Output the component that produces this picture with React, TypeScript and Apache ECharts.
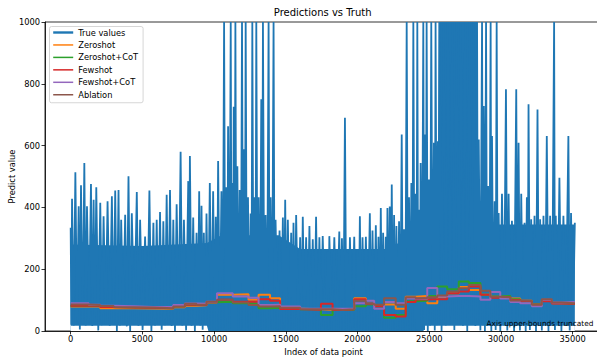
import React, { useEffect, useRef } from "react";
import * as echarts from "echarts";

const FONT = "DejaVu Sans";

const xTicks = [0, 5000, 10000, 15000, 20000, 25000, 30000, 35000];
const yTicks = [0, 200, 400, 600, 800, 1000];

// True values: dense signal, read as alternating peaks (high) and troughs (low)
const trueIdx = [
  0, 95, 327, 558, 720, 952, 1137, 1415, 1600, 1785,
  2063, 2295, 2572, 2873, 3105, 3336, 3521, 3799, 4031, 4262,
  4610, 4841, 5188, 5489, 5767, 5998, 6230, 6461, 6693, 6925,
  7156, 7388, 7665, 7897, 8198, 8312, 8543, 8775, 8960, 9122,
  9284, 9470, 9701, 9933, 10118, 10280, 10511, 10696, 10859, 10974,
  11159, 11275, 11368, 11484, 11622, 11785, 11946, 12085, 12201, 12363,
  12548, 12664, 12826, 12942, 13104, 13289, 13405, 13590, 13799, 13937,
  14146, 14285, 14563, 14794, 14956, 15141, 15373, 15535, 15720, 15998,
  16183, 16415, 16646, 16878, 17109, 17341, 17572, 17918, 18034, 18381,
  18728, 18913, 19122, 19307, 19469, 19770, 20001, 20163, 20349, 20580,
  20858, 21043, 21275, 21460, 21622, 21784, 21969, 22085, 22247, 22386,
  22548, 22710, 22895, 23080, 23242, 23427, 23590, 23752, 23890, 24053,
  24168, 24284, 24400, 24585, 24701, 24817, 24979, 25141, 25326, 25441,
  25603, 25719, 26000, 26300, 26600, 26900, 27200, 27500, 27800, 28100,
  28333, 28450, 28681, 28800, 28960, 29100, 29280, 29375, 29560, 29700,
  29838, 30070, 30348, 30533, 30765, 31065, 31228, 31413, 31644, 31806,
  31922, 32107, 32339, 32547, 32732, 32964, 33195, 33427, 33705, 33820,
  34075, 34353, 34700, 34885, 35150,
];
const trueHigh = [
  334, 428, 514, 404, 472, 544, 404, 476, 425, 465,
  415, 371, 420, 436, 455, 456, 360, 376, 501, 381,
  450, 360, 306, 455, 350, 360, 385, 355, 441, 456,
  360, 410, 580, 360, 485, 566, 367, 318, 452, 405,
  318, 380, 479, 452, 370, 550, 452, 1000, 465, 663,
  1000, 479, 726, 1000, 533, 456, 1000, 588, 1000, 433,
  380, 1000, 433, 1000, 433, 750, 1000, 375, 1000, 433,
  1000, 360, 325, 367, 425, 360, 318, 350, 375, 303,
  370, 303, 340, 297, 370, 303, 307, 257, 307, 303,
  322, 300, 690, 255, 303, 305, 260, 371, 303, 305,
  381, 325, 342, 305, 398, 318, 305, 398, 403, 474,
  375, 340, 355, 636, 329, 1000, 433, 479, 1000, 444,
  1000, 392, 544, 1000, 636, 1000, 490, 1000, 609, 1000,
  614, 1000, 1000, 1000, 1000, 1000, 1000, 1000, 1000, 1000,
  1000, 620, 1000, 728, 1000, 469, 1000, 631, 420, 1000,
  382, 444, 782, 444, 357, 782, 609, 444, 350, 433,
  734, 362, 373, 717, 362, 373, 631, 373, 1000, 373,
  496, 373, 631, 382, 350,
];
const trueLow = [
  20, 18, 22, 5, 20, 18, 22, 16, 20, 2,
  19, 21, 17, 20, 0, 18, 22, 15, 0, 20,
  17, 3, 20, 0, 18, 20, 4, 19, 21, 16,
  0, 20, 18, 2, 20, 17, 0, 21, 18, 4,
  20, 16, 0, 3, 0, 2, 0, 4, 0, 2,
  0, 3, 0, 2, 0, 5, 0, 2, 0, 3,
  0, 2, 0, 4, 0, 2, 0, 3, 0, 2,
  0, 4, 0, 2, 0, 3, 0, 2, 0, 4,
  0, 2, 0, 3, 0, 2, 0, 4, 0, 2,
  0, 3, 0, 2, 0, 4, 0, 2, 0, 3,
  0, 2, 0, 4, 0, 2, 0, 3, 0, 2,
  0, 4, 0, 2, 0, 3, 0, 2, 0, 4,
  0, 2, 0, 3, 20, 0, 18, 22, 2, 19,
  21, 0, 18, 20, 3, 22, 17, 0, 20, 16,
  21, 2, 19, 0, 20, 18, 0, 22, 3, 20,
  0, 18, 2, 21, 0, 19, 2, 20, 0, 17,
  3, 20, 0, 22, 2, 18, 0, 20, 3, 19,
  0, 21, 2, 18, 20,
];

// Level below which the true-value trace is a solid mass
const bandIdx = [0, 5000, 9500, 10500, 14500, 16000, 22500, 23400, 24600, 25600, 25650, 28330, 28400, 35150];
const bandTop = [280, 275, 285, 310, 310, 265, 265, 320, 380, 480, 1000, 1000, 345, 345];
// Level of the sparse white gaps just above zero
const gapIdx = [0, 9500, 9600, 24600, 24700, 35150];
const gapTop = [17, 17, 0, 0, 17, 17];

// Predictions: piecewise-constant per chunk of indices
const predStart = [
  0, 1250, 2060, 3000, 4400, 5760, 7150, 7960, 8770, 9470,
  10200, 11300, 12400, 13100, 13900, 14600, 16000, 17450, 18260, 18960,
  19770, 20580, 21160, 21850, 22660, 23360, 24050, 24860, 25560, 26250,
  27060, 27760, 28570, 29260, 29950, 30650, 31340, 32150, 32850, 33550, 34240,
];
const predEnd = 35150;
const zeroshot = [
  79, 80, 74, 74, 73, 72, 77, 82, 83, 92,
  117, 119, 101, 117, 106, 72, 70, 68, 68, 70,
  106, 88, 82, 86, 72, 111, 113, 90, 111, 122,
  142, 133, 117, 111, 111, 105, 98, 86, 98, 90, 90,
];
const zeroshotCot = [
  81, 81, 78, 76, 75, 74, 79, 84, 84, 93,
  95, 90, 88, 74, 75, 73, 70, 52, 68, 69,
  80, 86, 80, 43, 52, 96, 98, 113, 144, 135,
  160, 155, 117, 112, 113, 103, 96, 86, 100, 91, 89,
];
const fewshot = [
  82, 82, 78, 76, 75, 74, 80, 85, 84, 93,
  101, 95, 95, 103, 98, 71, 69, 88, 68, 70,
  103, 88, 80, 52, 47, 94, 102, 103, 103, 122,
  128, 144, 117, 108, 109, 100, 96, 85, 96, 89, 88,
];
const fewshotCot = [
  90, 85, 82, 80, 78, 78, 84, 89, 88, 95,
  122, 112, 108, 84, 85, 79, 72, 72, 72, 72,
  90, 98, 72, 94, 90, 105, 104, 139, 112, 113,
  113, 112, 101, 126, 105, 94, 90, 80, 101, 92, 94,
];
const ablation = [
  86, 84, 81, 77, 76, 74, 79, 88, 85, 95,
  101, 92, 84, 79, 80, 75, 70, 70, 68, 70,
  98, 88, 85, 106, 85, 109, 106, 109, 115, 128,
  138, 149, 130, 111, 109, 99, 98, 85, 103, 92, 90,
];

const predSeries = [
  { name: "Zeroshot", values: zeroshot, color: "#ff7f0e" },
  { name: "Zeroshot+CoT", values: zeroshotCot, color: "#2ca02c" },
  { name: "Fewshot", values: fewshot, color: "#d62728" },
  { name: "Fewshot+CoT", values: fewshotCot, color: "#9467bd" },
  { name: "Ablation", values: ablation, color: "#8c564b" },
];

function buildTrue() {
  const out: number[][] = [];
  for (let i = 0; i < trueIdx.length; i++) {
    out.push([trueIdx[i], trueHigh[i]]);
    if (i < trueIdx.length - 1) {
      out.push([(trueIdx[i] + trueIdx[i + 1]) / 2, trueLow[i]]);
    }
  }
  return out;
}

function buildStep(values: number[]) {
  const out = predStart.map((s, i) => [s, values[i]]);
  out.push([predEnd, values[values.length - 1]]);
  return out;
}

const plain = (v: number) => String(v);

export default function App() {
  const ref = useRef<HTMLDivElement>(null);
  useEffect(() => {
    if (!ref.current) return;
    const chart = echarts.init(ref.current, null, { renderer: "svg" });
    const axisColor = "#000";
    const option: any = {
      animation: false,
      textStyle: { fontFamily: FONT },
      grid: {
        left: 45,
        right: -5,
        top: 22,
        bottom: 29,
        containLabel: false,
        outerBoundsMode: "none",
        show: true,
        borderColor: "#000",
        borderWidth: 0.8,
        backgroundColor: "transparent",
      },
      xAxis: {
        type: "value",
        min: -1790,
        max: 37044,
        z: 10,
        axisLine: { show: true, onZero: false, lineStyle: { color: axisColor, width: 0.8 } },
        axisTick: { show: true, length: 3.5, customValues: xTicks, lineStyle: { color: axisColor, width: 0.8 } },
        axisLabel: { customValues: xTicks, formatter: plain, fontSize: 8.3, color: "#000", margin: 4, fontFamily: FONT },
        splitLine: { show: false },
        name: "Index of data point",
        nameLocation: "middle",
        nameGap: 15,
        nameTextStyle: { fontSize: 8.3, color: "#000", fontFamily: FONT, verticalAlign: "top" },
      },
      yAxis: {
        type: "value",
        min: 0,
        max: 1000,
        interval: 200,
        z: 10,
        axisLine: { show: true, onZero: false, lineStyle: { color: axisColor, width: 0.8 } },
        axisTick: { show: true, length: 3.5, lineStyle: { color: axisColor, width: 0.8 } },
        axisLabel: { formatter: plain, fontSize: 8.3, color: "#000", margin: 5, fontFamily: FONT, customValues: yTicks },
        splitLine: { show: false },
        name: "Predict value",
        nameLocation: "middle",
        nameGap: 29,
        nameMoveOverlap: false,
        nameTextStyle: { fontSize: 8.3, color: "#000", fontFamily: FONT },
      },
      legend: {
        orient: "vertical",
        left: 49.5,
        top: 26.5,
        padding: [1, 5, 3, 2.5],
        itemWidth: 20,
        itemHeight: 10,
        itemGap: 2.45,
        selectedMode: false,
        backgroundColor: "rgba(255,255,255,0.8)",
        borderColor: "#cccccc",
        borderWidth: 0.8,
        borderRadius: 2,
        itemStyle: { opacity: 0 },
        textStyle: { fontSize: 8.3, color: "#000", fontFamily: FONT, lineHeight: 10 },
        data: [
          { name: "True values", lineStyle: { width: 2.4 }, itemStyle: { opacity: 0 } },
          ...predSeries.map((p) => ({ name: p.name, lineStyle: { width: 1.5 }, itemStyle: { opacity: 0 } })),
        ],
      },
      graphic: [
        {
          type: "text",
          x: 322.7,
          y: 7,
          z: 100,
          style: {
            text: "Predictions vs Truth",
            fontSize: 10,
            fontFamily: FONT,
            fill: "#000",
            textAlign: "center",
            align: "center",
            textVerticalAlign: "top",
            verticalAlign: "top",
          },
        },
        {
          type: "text",
          x: 593.5,
          y: 319.5,
          z: 100,
          style: {
            text: "Axis upper-bounds truncated",
            fontSize: 7.4,
            fontFamily: FONT,
            fill: "#000",
            textAlign: "right",
            align: "right",
            textVerticalAlign: "top",
            verticalAlign: "top",
          },
        },
      ],
      series: [
        {
          name: "_band",
          type: "line",
          data: bandIdx.map((x, i) => [x, bandTop[i]]),
          symbol: "none",
          silent: true,
          lineStyle: { width: 0 },
          itemStyle: { color: "#1f77b4" },
          areaStyle: { color: "#1f77b4", opacity: 1 },
        },
        {
          name: "_gap",
          type: "line",
          data: gapIdx.map((x, i) => [x, gapTop[i]]),
          symbol: "none",
          silent: true,
          lineStyle: { width: 0 },
          itemStyle: { color: "#ffffff" },
          areaStyle: { color: "#ffffff", opacity: 1 },
        },
        {
          name: "True values",
          type: "line",
          data: buildTrue(),
          symbol: "none",
          clip: true,
          lineStyle: { width: 1.8, color: "#1f77b4" },
          itemStyle: { color: "#1f77b4" },
        },
        ...predSeries.map((p) => ({
          name: p.name,
          type: "line",
          step: "end",
          data: buildStep(p.values),
          symbol: "none",
          lineStyle: { width: 2, color: p.color },
          itemStyle: { color: p.color },
        })),
      ],
    };
    chart.setOption(option);
    return () => chart.dispose();
  }, []);
  return (
    <div
      ref={ref}
      style={{ position: "fixed", left: 0, top: 0, width: 597, height: 360, background: "#fff" }}
    />
  );
}
